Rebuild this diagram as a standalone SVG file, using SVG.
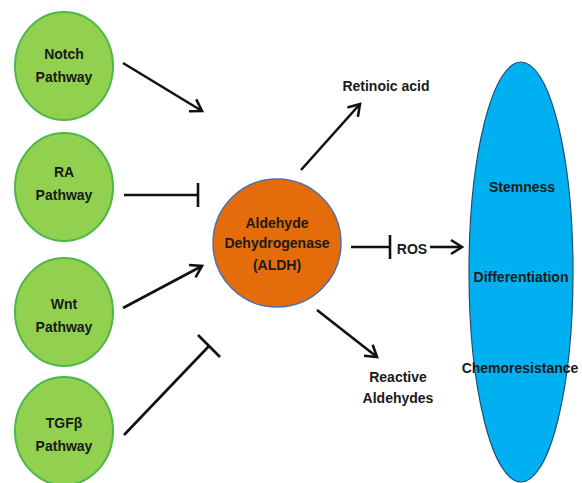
<svg xmlns="http://www.w3.org/2000/svg" width="582" height="483" viewBox="0 0 582 483">
<style>
.t{font-family:"Liberation Sans",Arial,sans-serif;font-weight:bold;font-size:14px;fill:#1a1a1a;text-anchor:middle}
.g{fill:#92D050;stroke:#4CB848;stroke-width:2}
.c{stroke:#111;stroke-width:2.6;fill:none}
</style>
<defs>
<marker id="ah" markerUnits="userSpaceOnUse" markerWidth="20" markerHeight="20" refX="12" refY="8" orient="auto" overflow="visible">
<path d="M1,1 L12,8 L1,15" fill="none" stroke="#111" stroke-width="2.6"/>
</marker>
</defs>
<rect width="582" height="483" fill="#fff"/>
<g id="notch"><ellipse class="g" cx="64" cy="66" rx="49" ry="54"/><text class="t" x="64" y="59">Notch</text><text class="t" x="64" y="82">Pathway</text></g>
<g id="ra"><ellipse class="g" cx="64" cy="187" rx="49" ry="54"/><text class="t" x="64" y="177">RA</text><text class="t" x="64" y="200">Pathway</text></g>
<g id="wnt"><ellipse class="g" cx="64" cy="312" rx="49" ry="54"/><text class="t" x="64" y="309">Wnt</text><text class="t" x="64" y="332">Pathway</text></g>
<g id="tgfb"><ellipse class="g" cx="64" cy="431" rx="49" ry="54"/><text class="t" x="64" y="428">TGFβ</text><text class="t" x="64" y="451">Pathway</text></g>
<g id="aldh"><circle cx="277" cy="243" r="64" fill="#E46C0A" stroke="#4F6FA8" stroke-width="1.5"/><text class="t" x="277" y="228">Aldehyde</text><text class="t" x="277" y="248">Dehydrogenase</text><text class="t" x="277" y="270">(ALDH)</text></g>
<g id="retinoic"><text class="t" x="386" y="91">Retinoic acid</text></g>
<g id="ros"><text class="t" x="412" y="254">ROS</text></g>
<g id="reactive"><text class="t" x="398" y="382">Reactive</text><text class="t" x="398" y="403">Aldehydes</text></g>
<g id="outcomes"><ellipse cx="521" cy="272" rx="52" ry="210" fill="#00B0F0" stroke="#1F4E79" stroke-width="1.2"/><text class="t" x="522" y="192">Stemness</text><text class="t" x="521" y="282">Differentiation</text><text class="t" x="520" y="373">Chemoresistance</text></g>
<g id="connectors">
<line class="c" x1="123" y1="63" x2="202" y2="111" marker-end="url(#ah)"/>
<line class="c" x1="124" y1="195" x2="198" y2="195"/><line class="c" x1="198" y1="183" x2="198" y2="207"/>
<line class="c" x1="123" y1="308" x2="202" y2="266" marker-end="url(#ah)"/>
<line class="c" x1="124" y1="435" x2="209" y2="346"/><line class="c" x1="198" y1="335" x2="220" y2="357"/>
<line class="c" x1="301" y1="170" x2="360" y2="104" marker-end="url(#ah)"/>
<line class="c" x1="351" y1="247" x2="390" y2="247"/><line class="c" x1="390" y1="235" x2="390" y2="259"/>
<line class="c" x1="430" y1="247" x2="462" y2="247" marker-end="url(#ah)"/>
<line class="c" x1="317" y1="310" x2="377" y2="357" marker-end="url(#ah)"/>
</g>
</svg>
